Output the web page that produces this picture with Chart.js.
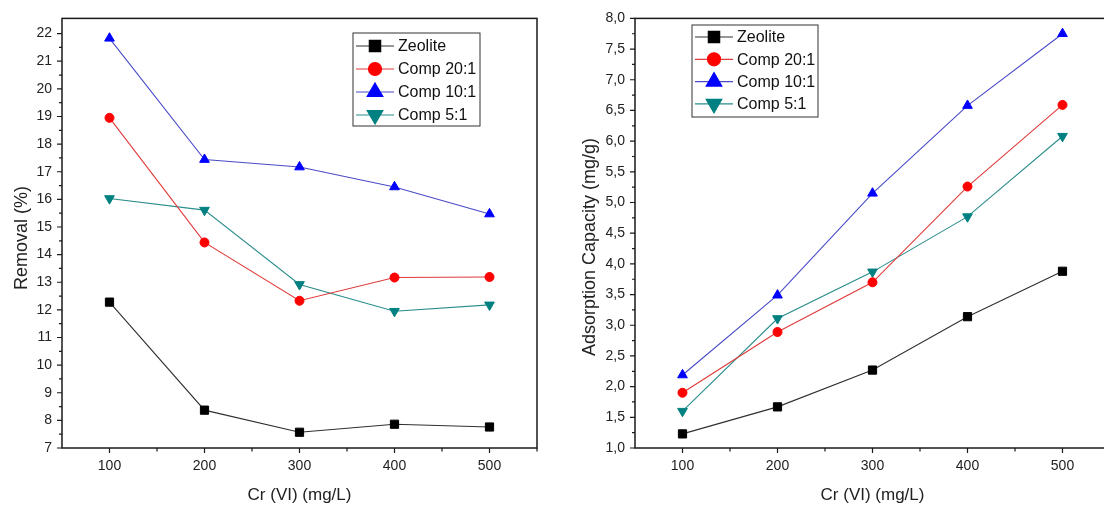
<!DOCTYPE html>
<html>
<head>
<meta charset="utf-8">
<script src="https://cdn.jsdelivr.net/npm/chart.js@4.4.1/dist/chart.umd.min.js"></script>
<style>
  html, body { margin: 0; padding: 0; background: #fff; overflow: hidden; }
  #wrap { position: relative; width: 1104px; height: 510px; overflow: hidden; }
  #left { position: absolute; left: 0; top: 0; }
  #right { position: absolute; left: 560px; top: 0; }
</style>
</head>
<body>
<div id="wrap">
  <canvas id="left" width="560" height="510"></canvas>
  <canvas id="right" width="560" height="510"></canvas>
</div>
<script>
// concentrations of Cr(VI), mg/L
const concentrations = [100, 200, 300, 400, 500];
const seriesNames = ['Zeolite', 'Comp 20:1', 'Comp 10:1', 'Comp 5:1'];

// removal, %
const removalZeolite = [12.28, 8.37, 7.57, 7.86, 7.76];
const removalComp20 = [18.95, 14.44, 12.33, 13.17, 13.19];
const removalComp10 = [21.83, 17.44, 17.17, 16.45, 15.47];
const removalComp5 = [16.03, 15.61, 12.92, 11.95, 12.18];

// adsorption capacity, mg/g
const capacityZeolite = [1.23, 1.67, 2.27, 3.14, 3.88];
const capacityComp20 = [1.90, 2.89, 3.70, 5.26, 6.59];
const capacityComp10 = [2.19, 3.49, 5.15, 6.58, 7.75];
const capacityComp5 = [1.60, 3.11, 3.87, 4.77, 6.08];

const xTicks = [100, 200, 300, 400, 500];
const removalTicks = [7, 8, 9, 10, 11, 12, 13, 14, 15, 16, 17, 18, 19, 20, 21, 22];
const capacityTicks = [1.0, 1.5, 2.0, 2.5, 3.0, 3.5, 4.0, 4.5, 5.0, 5.5, 6.0, 6.5, 7.0, 7.5, 8.0];

const markerColors = ['#000000', '#ff0000', '#0000ff', '#008080'];
const lineColors = ['#303030', '#e03a3a', '#4a4ac8', '#2a8c8c'];
const markerStyles = ['rect', 'circle', 'triangle', 'triangle'];
const markerRotation = [0, 0, 0, 180];
const markerRadius = [5.8, 4.5, 5.6, 5.6];
const legendRadius = [8, 6.5, 9, 9];

const textColor = '#222';
const fontFamily = '"Liberation Sans", Arial, sans-serif';

function midpoints(arr) {
  const out = [];
  for (let i = 0; i < arr.length - 1; i++) out.push((arr[i] + arr[i + 1]) / 2);
  return out;
}

function drawMarker(ctx, i, x, y, r) {
  ctx.fillStyle = markerColors[i];
  ctx.strokeStyle = markerColors[i];
  Chart.helpers.drawPoint(ctx, {
    pointStyle: markerStyles[i],
    radius: r,
    rotation: markerRotation[i],
    borderWidth: 1
  }, x, y);
}

// box around the plot, outward tick marks, y title and the boxed legend
const framePlugin = {
  id: 'frame',
  afterDraw(chart, args, opts) {
    const { ctx, chartArea: a, scales: { x, y } } = chart;
    ctx.save();
    ctx.strokeStyle = '#1a1a1a';
    ctx.lineWidth = 1.5;
    ctx.strokeRect(a.left, a.top, a.right - a.left, a.bottom - a.top);

    ctx.lineWidth = 1.2;
    ctx.beginPath();
    opts.yTicks.forEach(v => {
      const py = y.getPixelForValue(v);
      ctx.moveTo(a.left, py); ctx.lineTo(a.left - 5, py);
    });
    midpoints(opts.yTicks).forEach(v => {
      const py = y.getPixelForValue(v);
      ctx.moveTo(a.left, py); ctx.lineTo(a.left - 3, py);
    });
    xTicks.forEach(v => {
      const px = x.getPixelForValue(v);
      ctx.moveTo(px, a.bottom); ctx.lineTo(px, a.bottom + 5);
    });
    midpoints(xTicks).concat([xTicks[xTicks.length - 1] + 50]).forEach(v => {
      const px = x.getPixelForValue(v);
      ctx.moveTo(px, a.bottom); ctx.lineTo(px, a.bottom + 3.5);
    });
    ctx.stroke();

    // rotated y axis title
    ctx.save();
    ctx.translate(opts.yTitle.x, opts.yTitle.y);
    ctx.rotate(-Math.PI / 2);
    ctx.font = '18px ' + fontFamily;
    ctx.fillStyle = textColor;
    ctx.textAlign = 'center';
    ctx.textBaseline = 'middle';
    ctx.fillText(opts.yTitle.text, 0, 0);
    ctx.restore();

    // legend
    const lg = opts.legend;
    ctx.lineWidth = 1;
    ctx.strokeStyle = '#333';
    ctx.fillStyle = '#fff';
    ctx.fillRect(lg.x, lg.y, lg.w, lg.h);
    ctx.strokeRect(lg.x, lg.y, lg.w, lg.h);
    ctx.font = '16px ' + fontFamily;
    ctx.textBaseline = 'middle';
    chart.data.datasets.forEach((ds, i) => {
      const cy = lg.y + lg.first + i * lg.row;
      ctx.strokeStyle = lineColors[i];
      ctx.lineWidth = 1.2;
      ctx.beginPath();
      ctx.moveTo(lg.x + 3, cy); ctx.lineTo(lg.x + 41, cy);
      ctx.stroke();
      drawMarker(ctx, i, lg.x + 22, cy, legendRadius[i]);
      ctx.fillStyle = '#111';
      ctx.fillText(ds.label, lg.x + 45, cy + 1);
    });
    ctx.restore();
  }
};

function makeDatasets(seriesValues) {
  return seriesValues.map((vals, i) => ({
    label: seriesNames[i],
    data: concentrations.map((c, k) => ({ x: c, y: vals[k] })),
    borderColor: lineColors[i],
    borderWidth: 1.1,
    backgroundColor: markerColors[i],
    pointBackgroundColor: markerColors[i],
    pointBorderColor: markerColors[i],
    pointBorderWidth: 1,
    pointStyle: markerStyles[i],
    pointRotation: markerRotation[i],
    pointRadius: markerRadius[i],
    tension: 0
  }));
}

function makeChart(id, cfg) {
  return new Chart(document.getElementById(id), {
    type: 'line',
    data: { datasets: makeDatasets(cfg.series) },
    plugins: [framePlugin],
    options: {
      responsive: false,
      animation: false,
      layout: { padding: { top: cfg.padTop, right: cfg.padRight, left: 0, bottom: 0 } },
      plugins: {
        legend: { display: false },
        tooltip: { enabled: false },
        frame: { yTicks: cfg.yTicks, legend: cfg.legend, yTitle: cfg.yTitle }
      },
      scales: {
        x: {
          type: 'linear',
          min: 50,
          max: 550,
          grid: { display: false, drawTicks: false },
          border: { display: false },
          afterBuildTicks: s => { s.ticks = xTicks.map(v => ({ value: v })); },
          afterFit: s => { s.height = 62; },
          ticks: {
            padding: 10,
            color: textColor,
            font: { family: fontFamily, size: 14 },
            maxRotation: 0,
            callback: v => String(v)
          },
          title: {
            display: true,
            text: 'Cr (VI) (mg/L)',
            color: textColor,
            font: { family: fontFamily, size: 17 },
            padding: { top: 0, bottom: 4 }
          }
        },
        y: {
          min: cfg.yMin,
          max: cfg.yMax,
          grid: { display: false, drawTicks: false },
          border: { display: false },
          afterBuildTicks: s => { s.ticks = cfg.yTicks.map(v => ({ value: v })); },
          afterFit: s => { s.width = cfg.yWidth; },
          ticks: {
            padding: 10,
            color: textColor,
            font: { family: fontFamily, size: 14 },
            callback: cfg.yFormat
          }
        }
      }
    }
  });
}

makeChart('left', {
  series: [removalZeolite, removalComp20, removalComp10, removalComp5],
  yMin: 7,
  yMax: 22.55,
  yTicks: removalTicks,
  yFormat: v => String(v),
  yTitle: { text: 'Removal (%)', x: 22, y: 238 },
  yWidth: 62,
  padTop: 14,
  padRight: 23,
  legend: { x: 353, y: 33, w: 127, h: 93, first: 13, row: 23 }
});

makeChart('right', {
  series: [capacityZeolite, capacityComp20, capacityComp10, capacityComp5],
  yMin: 1,
  yMax: 8,
  yTicks: capacityTicks,
  yFormat: v => v.toFixed(1).replace('.', ','),
  yTitle: { text: 'Adsorption Capacity (mg/g)', x: 30, y: 247 },
  yWidth: 75,
  padTop: 14,
  padRight: 10,
  legend: { x: 132, y: 25, w: 126, h: 92, first: 12, row: 22.3 }
});
</script>
</body>
</html>
